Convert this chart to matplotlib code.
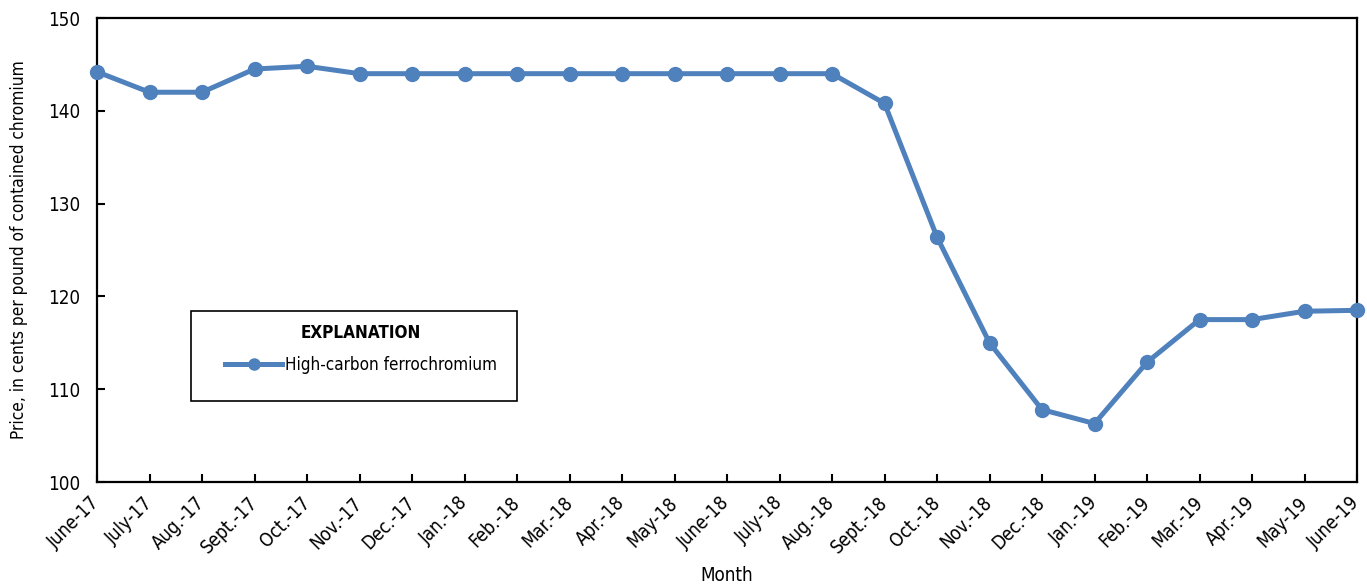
import matplotlib
matplotlib.use("Agg")
import matplotlib.pyplot as plt
from matplotlib import font_manager
from matplotlib.patches import Rectangle

months = ["June-17", "July-17", "Aug.-17", "Sept.-17", "Oct.-17", "Nov.-17", "Dec.-17",
          "Jan.-18", "Feb.-18", "Mar.-18", "Apr.-18", "May-18", "June-18", "July-18",
          "Aug.-18", "Sept.-18", "Oct.-18", "Nov.-18", "Dec.-18", "Jan.-19", "Feb.-19",
          "Mar.-19", "Apr.-19", "May-19", "June-19"]
prices = [144.2, 142.0, 142.0, 144.5, 144.8, 144.0, 144.0, 144.0, 144.0, 144.0, 144.0,
          144.0, 144.0, 144.0, 144.0, 140.8, 126.4, 115.0, 107.8, 106.3, 112.9, 117.5,
          117.5, 118.4, 118.5]
yticks = [100, 110, 120, 130, 140, 150]
series_name = "High-carbon ferrochromium"

# choose a condensed font if one is installed
fam, stretch, scale = "Liberation Sans", "normal", 0.86
ttf = font_manager.fontManager.ttflist
if any(f.name == "Liberation Sans Narrow" for f in ttf):
    fam, stretch, scale = "Liberation Sans Narrow", "normal", 1.0
elif any("DejaVuSansCondensed" in f.fname for f in ttf):
    fam, stretch, scale = "DejaVu Sans", "condensed", 0.9
plt.rcParams['font.family'] = [fam, 'DejaVu Sans']
plt.rcParams['font.stretch'] = stretch

fs = 15 * scale

fig = plt.figure(figsize=(13.67, 5.88), dpi=100)
ax = fig.add_axes([97/1367, 1-482/588, 1260/1367, 464/588])

x = list(range(len(months)))
line, = ax.plot(x, prices, color="#4F81BD", lw=3.6, marker="o", markersize=10,
                label=series_name, clip_on=False, zorder=3)

ax.set_xlim(0, len(months)-1)
ax.set_ylim(100, 150)
ax.set_yticks(yticks)
ax.set_xticks(x)
ax.set_xticklabels(months, rotation=45, ha="right", va="center", rotation_mode="anchor")
ax.tick_params(axis="both", direction="in", length=6, width=1.5, labelsize=fs, colors="black")
ax.tick_params(axis="y", pad=12)
ax.tick_params(axis="x", pad=13)
for s in ax.spines.values():
    s.set_linewidth(1.6)
    s.set_color("black")

ax.set_ylabel("Price, in cents per pound of contained chromium", fontsize=fs * 0.92)
ax.yaxis.set_label_coords(-0.055, 0.5)
ax.set_xlabel("Month", fontsize=fs)
ax.xaxis.set_label_coords(0.5, -0.18)

# legend box
ax.add_patch(Rectangle(((191-97)/1260, (482-401)/464), (517-191)/1260, 90/464,
                       transform=ax.transAxes, fill=False, edgecolor="black", lw=1.2, zorder=4))
lfs = fs * 0.91
leg = ax.legend(loc="upper left", bbox_to_anchor=((225-97)/1260, (482-324)/464), fontsize=lfs,
                title="EXPLANATION",
                title_fontproperties={"weight": "bold", "size": lfs, "family": [fam, 'DejaVu Sans'],
                                      "stretch": stretch},
                frameon=False, borderpad=0, handlelength=3.35, handletextpad=0.15,
                borderaxespad=0, labelspacing=0.8)
for h in leg.legend_handles:
    h.set_markersize(8)

fig.savefig("out.png", dpi=100)
